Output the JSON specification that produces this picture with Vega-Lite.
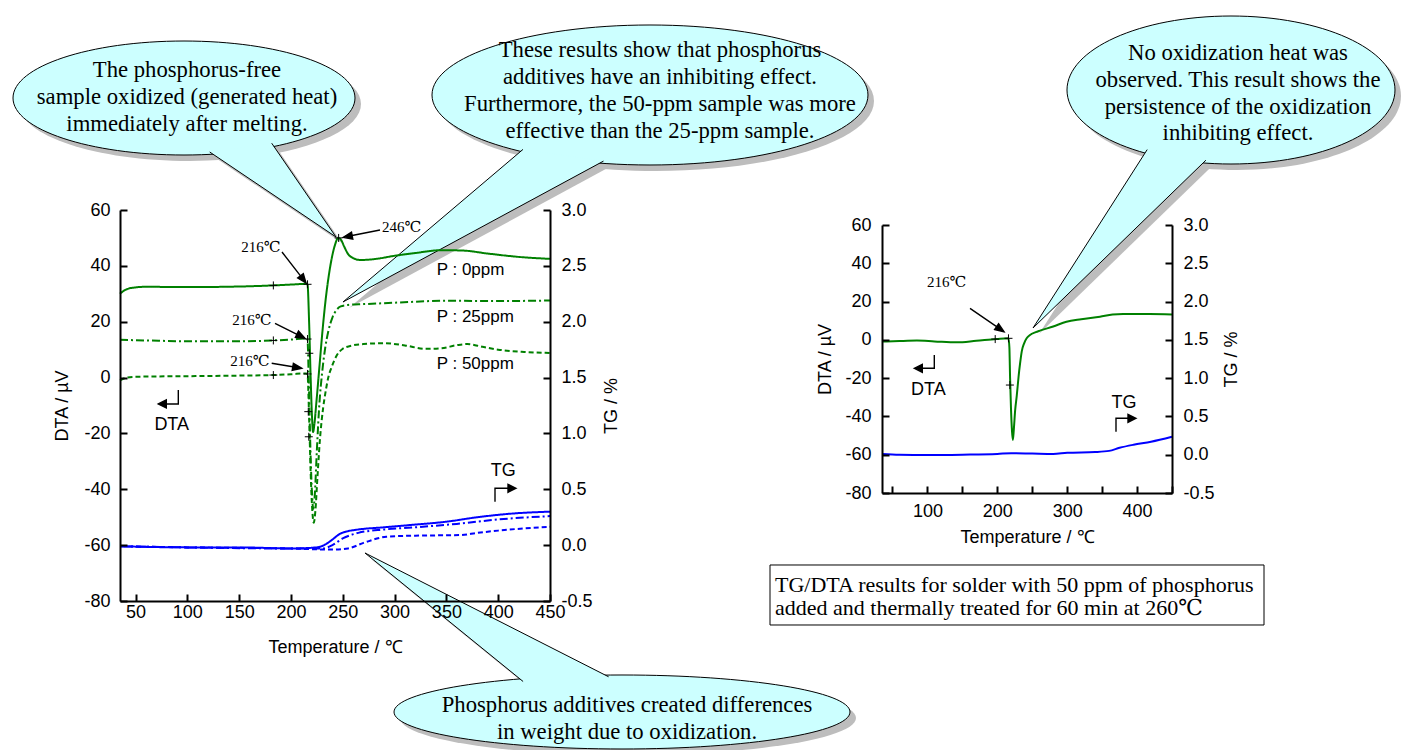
{
"$schema":"https://vega.github.io/schema/vega-lite/v6.json",
"width":1404,"height":750,"autosize":"none","padding":0,"background":"white",
"config":{"view":{"stroke":null},"axis":{"grid":false,"domainColor":"black","domainWidth":2,"tickColor":"black","tickWidth":2,"tickSize":-7,"labelFont":"Liberation Sans","labelFontSize":18,"labelColor":"black","titleFont":"Liberation Sans","titleFontSize":18,"titleFontWeight":"normal","titleColor":"black","labelFlush":false,"labelOverlap":false}},
"datasets":{
"l_dta":[
{"s":"P0","T":35,"DTA":30.0},{"s":"P0","T":38,"DTA":30.9},{"s":"P0","T":42,"DTA":31.7},{"s":"P0","T":48,"DTA":32.2},{"s":"P0","T":60,"DTA":32.5},{"s":"P0","T":100,"DTA":32.4},{"s":"P0","T":150,"DTA":32.6},{"s":"P0","T":183,"DTA":33.0},{"s":"P0","T":200,"DTA":33.3},{"s":"P0","T":210,"DTA":33.5},{"s":"P0","T":215,"DTA":33.6},{"s":"P0","T":216,"DTA":33.2},{"s":"P0","T":217.5,"DTA":20},{"s":"P0","T":219,"DTA":0},{"s":"P0","T":220.3,"DTA":-14},{"s":"P0","T":221.3,"DTA":-19.5},{"s":"P0","T":222.5,"DTA":-17},{"s":"P0","T":224.5,"DTA":-9},{"s":"P0","T":227.5,"DTA":4},{"s":"P0","T":230.5,"DTA":17},{"s":"P0","T":233.5,"DTA":28},{"s":"P0","T":236.5,"DTA":36.5},{"s":"P0","T":239.5,"DTA":43},{"s":"P0","T":242.5,"DTA":47.5},{"s":"P0","T":245.5,"DTA":50},{"s":"P0","T":248.5,"DTA":49.2},{"s":"P0","T":251.5,"DTA":46.8},{"s":"P0","T":255,"DTA":44.3},{"s":"P0","T":260,"DTA":42.8},{"s":"P0","T":267,"DTA":42.1},{"s":"P0","T":280,"DTA":42.4},{"s":"P0","T":300,"DTA":43.6},{"s":"P0","T":320,"DTA":44.6},{"s":"P0","T":345,"DTA":45.6},{"s":"P0","T":365,"DTA":45.5},{"s":"P0","T":390,"DTA":44.4},{"s":"P0","T":420,"DTA":43.2},{"s":"P0","T":450,"DTA":42.5},
{"s":"P25","T":35,"DTA":13.5},{"s":"P25","T":60,"DTA":13.3},{"s":"P25","T":100,"DTA":13.0},{"s":"P25","T":150,"DTA":13.0},{"s":"P25","T":183,"DTA":13.3},{"s":"P25","T":200,"DTA":13.6},{"s":"P25","T":215,"DTA":14.0},{"s":"P25","T":216,"DTA":13.4},{"s":"P25","T":217,"DTA":2},{"s":"P25","T":218.5,"DTA":-22},{"s":"P25","T":220,"DTA":-39},{"s":"P25","T":221.5,"DTA":-47},{"s":"P25","T":223,"DTA":-42},{"s":"P25","T":225,"DTA":-26},{"s":"P25","T":227.5,"DTA":-9},{"s":"P25","T":230,"DTA":1.5},{"s":"P25","T":233,"DTA":10.5},{"s":"P25","T":236,"DTA":16.5},{"s":"P25","T":240,"DTA":21.5},{"s":"P25","T":244,"DTA":24.2},{"s":"P25","T":248,"DTA":25.5},{"s":"P25","T":255,"DTA":26.0},{"s":"P25","T":270,"DTA":26.3},{"s":"P25","T":300,"DTA":26.8},{"s":"P25","T":350,"DTA":27.5},{"s":"P25","T":400,"DTA":27.4},{"s":"P25","T":450,"DTA":27.6},
{"s":"P50","T":35,"DTA":-1.0},{"s":"P50","T":40,"DTA":-0.2},{"s":"P50","T":50,"DTA":0.3},{"s":"P50","T":100,"DTA":0.5},{"s":"P50","T":150,"DTA":0.7},{"s":"P50","T":183,"DTA":0.9},{"s":"P50","T":200,"DTA":1.2},{"s":"P50","T":215,"DTA":1.5},{"s":"P50","T":216,"DTA":1.0},{"s":"P50","T":217.5,"DTA":-14},{"s":"P50","T":219,"DTA":-34},{"s":"P50","T":220.5,"DTA":-47},{"s":"P50","T":222,"DTA":-52},{"s":"P50","T":223.5,"DTA":-48},{"s":"P50","T":225.5,"DTA":-36},{"s":"P50","T":228,"DTA":-22},{"s":"P50","T":231,"DTA":-11},{"s":"P50","T":233,"DTA":-6},{"s":"P50","T":236,"DTA":0},{"s":"P50","T":239.5,"DTA":4},{"s":"P50","T":244,"DTA":7.8},{"s":"P50","T":250,"DTA":10.3},{"s":"P50","T":258,"DTA":11.4},{"s":"P50","T":270,"DTA":12.0},{"s":"P50","T":290,"DTA":12.3},{"s":"P50","T":310,"DTA":11.5},{"s":"P50","T":330,"DTA":10.3},{"s":"P50","T":345,"DTA":10.5},{"s":"P50","T":360,"DTA":11.6},{"s":"P50","T":370,"DTA":12.0},{"s":"P50","T":385,"DTA":11.0},{"s":"P50","T":400,"DTA":10.0},{"s":"P50","T":425,"DTA":9.2},{"s":"P50","T":450,"DTA":8.8}
],
"l_tg":[
{"s":"P0","T":35,"TG":-0.01},{"s":"P0","T":100,"TG":-0.02},{"s":"P0","T":150,"TG":-0.02},{"s":"P0","T":200,"TG":-0.03},{"s":"P0","T":225,"TG":-0.02},{"s":"P0","T":232,"TG":0.0},{"s":"P0","T":240,"TG":0.05},{"s":"P0","T":247,"TG":0.10},{"s":"P0","T":255,"TG":0.125},{"s":"P0","T":265,"TG":0.14},{"s":"P0","T":290,"TG":0.16},{"s":"P0","T":315,"TG":0.18},{"s":"P0","T":350,"TG":0.21},{"s":"P0","T":380,"TG":0.25},{"s":"P0","T":410,"TG":0.28},{"s":"P0","T":450,"TG":0.30},
{"s":"P25","T":35,"TG":-0.01},{"s":"P25","T":100,"TG":-0.02},{"s":"P25","T":200,"TG":-0.03},{"s":"P25","T":230,"TG":-0.03},{"s":"P25","T":240,"TG":0.0},{"s":"P25","T":250,"TG":0.06},{"s":"P25","T":265,"TG":0.11},{"s":"P25","T":290,"TG":0.14},{"s":"P25","T":320,"TG":0.16},{"s":"P25","T":360,"TG":0.19},{"s":"P25","T":400,"TG":0.23},{"s":"P25","T":450,"TG":0.26},
{"s":"P50","T":35,"TG":-0.01},{"s":"P50","T":100,"TG":-0.02},{"s":"P50","T":200,"TG":-0.03},{"s":"P50","T":240,"TG":-0.04},{"s":"P50","T":255,"TG":-0.03},{"s":"P50","T":270,"TG":0.02},{"s":"P50","T":292,"TG":0.075},{"s":"P50","T":320,"TG":0.085},{"s":"P50","T":363,"TG":0.09},{"s":"P50","T":380,"TG":0.11},{"s":"P50","T":400,"TG":0.13},{"s":"P50","T":425,"TG":0.15},{"s":"P50","T":450,"TG":0.165}
],
"r_dta":[
{"T":35,"DTA":-0.9},{"T":60,"DTA":-0.6},{"T":85,"DTA":-0.4},{"T":110,"DTA":-0.8},{"T":142,"DTA":-1.3},{"T":170,"DTA":-0.5},{"T":199,"DTA":0.4},{"T":216,"DTA":0.8},{"T":217.3,"DTA":-4},{"T":218.3,"DTA":-20},{"T":219.6,"DTA":-36},{"T":221,"DTA":-47.5},{"T":222.2,"DTA":-52.3},{"T":223.6,"DTA":-47},{"T":225.5,"DTA":-37},{"T":227.9,"DTA":-29},{"T":230.5,"DTA":-19},{"T":232.6,"DTA":-12.3},{"T":235,"DTA":-6},{"T":238.4,"DTA":-1.8},{"T":242,"DTA":0.8},{"T":246.8,"DTA":2.5},{"T":255,"DTA":4},{"T":261,"DTA":4.8},{"T":280,"DTA":7.0},{"T":299,"DTA":9.5},{"T":320,"DTA":10.8},{"T":347,"DTA":12.1},{"T":365,"DTA":13.2},{"T":380,"DTA":13.5},{"T":418,"DTA":13.5},{"T":450,"DTA":13.3}
],
"r_tg":[
{"T":35,"TG":0.01},{"T":60,"TG":0.0},{"T":100,"TG":-0.005},{"T":150,"TG":0.0},{"T":200,"TG":0.01},{"T":220,"TG":0.02},{"T":250,"TG":0.015},{"T":280,"TG":0.01},{"T":300,"TG":0.025},{"T":340,"TG":0.035},{"T":360,"TG":0.05},{"T":375,"TG":0.09},{"T":395,"TG":0.13},{"T":420,"TG":0.17},{"T":450,"TG":0.235}
],
"l_sym":[
{"id":"Le","kind":"ell","T":96.77,"DTA":100.1},
{"id":"Lt","kind":"tail","T":243.47,"DTA":50.33},
{"id":"Me","kind":"ell","T":546.51,"DTA":101.18},
{"id":"Mt","kind":"tail","T":250.22,"DTA":27.06},
{"id":"Be","kind":"ell","T":519.49,"DTA":-119.74},
{"id":"Bt","kind":"tail","T":271.45,"DTA":-62.81},
{"id":"A1","kind":"arrow","T":214.51,"DTA":33.86},
{"id":"A2","kind":"arrow","T":213.55,"DTA":14.06},
{"id":"A3","kind":"arrow","T":210.36,"DTA":3.32},
{"id":"A4","kind":"arrow","T":250.51,"DTA":50.22},
{"id":"Ld","kind":"arrow","T":91.27,"DTA":-9.46},
{"id":"Lg","kind":"arrow","T":396.92,"DTA":-39.65},
{"id":"X","kind":"cross","T":183,"DTA":33.0},
{"id":"X","kind":"cross","T":216,"DTA":33.4},
{"id":"X","kind":"cross","T":183,"DTA":13.3},
{"id":"X","kind":"cross","T":216,"DTA":13.8},
{"id":"X","kind":"cross","T":183,"DTA":0.9},
{"id":"X","kind":"cross","T":216,"DTA":1.3},
{"id":"X","kind":"cross","T":217.7,"DTA":8.7},
{"id":"X","kind":"cross","T":216.7,"DTA":-12.2},
{"id":"X","kind":"cross","T":217.2,"DTA":-21.2},
{"id":"X","kind":"cross","T":246,"DTA":50}
],
"r_sym":[
{"id":"Re","kind":"ell","T":534.43,"DTA":130.52},
{"id":"Rt","kind":"tail","T":251.09,"DTA":6.19},
{"id":"A5","kind":"arrow","T":209.59,"DTA":4.26},
{"id":"Rd","kind":"arrow","T":109.84,"DTA":-14.86},
{"id":"Rg","kind":"arrow","T":369.86,"DTA":-40.98},
{"id":"X","kind":"cross","T":197,"DTA":0.4},
{"id":"X","kind":"cross","T":216,"DTA":0.8},
{"id":"X","kind":"cross","T":218,"DTA":-23.6},
{"id":"Cap","kind":"box","T":228.19,"DTA":-133.28}
],
"l_btext":[
{"lines":["The phosphorus-free","sample oxidized (generated heat)","immediately after melting."],"T":99.66,"DTA":110.13},
{"lines":["These results show that phosphorus","additives have an inhibiting effect.","Furthermore, the 50-ppm sample was more","effective than the 25-ppm sample."],"T":556.16,"DTA":117.29},
{"lines":["Phosphorus additives created differences","in weight due to oxidization."],"T":524.31,"DTA":-117.24}
],
"r_btext":[
{"lines":["No oxidization heat was","observed. This result shows the","persistence of the oxidization","inhibiting effect."],"T":544.45,"DTA":149.69}
],
"r_cap":[
{"lines":["TG/DTA results for solder with 50 ppm of phosphorus","added and thermally treated for 60 min at 260℃"],"T":-118.12,"DTA":-128.06}
],
"l_serif":[
{"txt":"216℃","T":171.08,"DTA":46.75},{"txt":"216℃","T":162.39,"DTA":20.61},{"txt":"216℃","T":160.47,"DTA":5.93},{"txt":"246℃","T":306.88,"DTA":54.02}
],
"l_p":[
{"txt":"P : 0ppm","T":340.65,"DTA":38.52},{"txt":"P : 25ppm","T":340.65,"DTA":21.8},{"txt":"P : 50ppm","T":340.65,"DTA":4.75}
],
"l_sans":[
{"txt":"DTA","T":84.9,"DTA":-16.98},{"txt":"TG","T":404.93,"DTA":-33.35}
],
"r_serif":[{"txt":"216℃","T":127.59,"DTA":30.22}],
"r_sans":[{"txt":"DTA","T":101.26,"DTA":-26.19},{"txt":"TG","T":381.31,"DTA":-32.83}]
},
"layer":[
{
"layer":[
{
"encoding":{
"x":{"field":"T","type":"quantitative","scale":{"domain":[35,450],"range":[120,550],"nice":false,"zero":false},"axis":{"orient":"bottom","offset":-149,"values":[50,100,150,200,250,300,350,400,450],"labelPadding":9,"title":"Temperature / ℃","titlePadding":17,"zindex":1}},
"y":{"field":"DTA","type":"quantitative","scale":{"domain":[-80,60],"range":[601,210],"nice":false,"zero":false},"axis":{"orient":"left","offset":-120,"values":[-80,-60,-40,-20,0,20,40,60],"labelExpr":"toString(datum.value)","labelPadding":17,"title":"DTA / µV","titlePadding":12,"zindex":1}}
},
"layer":[
{"data":{"name":"l_sym"},
"encoding":{"shape":{"field":"id","type":"nominal","legend":null,"scale":{"domain":["Le","Lt","Me","Mt","Be","Bt","A1","A2","A3","A4","Ld","Lg","X"],"range":["M-171,0C-171,-31.5,-94.4,-57,0,-57C94.4,-57,171,-31.5,171,0C171,31.5,94.4,57,0,57C-94.4,57,-171,31.5,-171,0Z","M-126.3,-85L0,0L-64.3,-93.8","M-218,0C-218,-38.7,-120.4,-70,0,-70C120.4,-70,218,-38.7,218,0C218,38.7,120.4,70,0,70C-120.4,70,-218,38.7,-218,0Z","M180,-152.6L0,0L260.5,-140.9","M-228,0C-228,-20.4,-125.9,-37,0,-37C125.9,-37,228,-20.4,228,0C228,20.4,125.9,37,0,37C-125.9,37,-228,20.4,-228,0Z","M158.1,128.5L0,0L243.6,123.8","M-24,-31L-5.5,-7.1M0,0L-8.3,-5L-2.7,-9.3Z","M-30,-15L-8,-4M0,0L-9.6,-0.9L-6.5,-7.2Z","M-30,-5L-8.9,-1.5M0,0L-9.5,2L-8.3,-4.9Z","M36.7,-7.3L8.8,-1.8M0,0L8.2,-5.2L9.5,1.7Z","M0,-14L0,0L-13,0L0,0ZM-20,0L-12,-4L-12,4Z","M0,13.4L0,0L13,0L0,0ZM21,0L13,-4L13,4Z","M-4,0L4,0M0,-4L0,4"]}}},
"layer":[
{"transform":[{"filter":"datum.kind=='ell'||datum.kind=='tail'"}],"mark":{"type":"point","size":4,"filled":true,"fill":"#bdbdbd","opacity":1,"xOffset":6,"yOffset":6}},
{"transform":[{"filter":"datum.kind=='ell'"}],"mark":{"type":"point","size":4,"filled":true,"fill":"#ccffff","stroke":"black","strokeWidth":1,"opacity":1}},
{"transform":[{"filter":"datum.kind=='tail'"}],"mark":{"type":"point","size":4,"filled":true,"fill":"#ccffff","stroke":"black","strokeWidth":1,"opacity":1}}
]},
{"data":{"name":"l_btext"},"mark":{"type":"text","font":"Liberation Serif, DejaVu Serif","fontSize":22.7,"lineHeight":27,"align":"center","baseline":"middle","color":"black"},"encoding":{"text":{"field":"lines","type":"nominal"}}},
{"data":{"name":"l_dta"},"mark":{"type":"line","color":"#008000","strokeWidth":2,"interpolate":"monotone"},"encoding":{"strokeDash":{"field":"s","type":"nominal","legend":null,"scale":{"domain":["P0","P25","P50"],"range":[[1,0],[8,3,2,3],[5,3]]}}}},
{"data":{"values":[{}]},"mark":{"type":"rule","color":"black","strokeWidth":2},"encoding":{"x":{"datum":35},"x2":{"datum":450},"y":{"datum":60}}},
{"data":{"name":"l_sym"},
"encoding":{"shape":{"field":"id","type":"nominal","legend":null,"scale":{"domain":["Le","Lt","Me","Mt","Be","Bt","A1","A2","A3","A4","Ld","Lg","X"],"range":["M-171,0C-171,-31.5,-94.4,-57,0,-57C94.4,-57,171,-31.5,171,0C171,31.5,94.4,57,0,57C-94.4,57,-171,31.5,-171,0Z","M-126.3,-85L0,0L-64.3,-93.8","M-218,0C-218,-38.7,-120.4,-70,0,-70C120.4,-70,218,-38.7,218,0C218,38.7,120.4,70,0,70C-120.4,70,-218,38.7,-218,0Z","M180,-152.6L0,0L260.5,-140.9","M-228,0C-228,-20.4,-125.9,-37,0,-37C125.9,-37,228,-20.4,228,0C228,20.4,125.9,37,0,37C-125.9,37,-228,20.4,-228,0Z","M158.1,128.5L0,0L243.6,123.8","M-24,-31L-5.5,-7.1M0,0L-8.3,-5L-2.7,-9.3Z","M-30,-15L-8,-4M0,0L-9.6,-0.9L-6.5,-7.2Z","M-30,-5L-8.9,-1.5M0,0L-9.5,2L-8.3,-4.9Z","M36.7,-7.3L8.8,-1.8M0,0L8.2,-5.2L9.5,1.7Z","M0,-14L0,0L-13,0L0,0ZM-20,0L-12,-4L-12,4Z","M0,13.4L0,0L13,0L0,0ZM21,0L13,-4L13,4Z","M-4,0L4,0M0,-4L0,4"]}}},
"layer":[
{"transform":[{"filter":"datum.kind=='arrow'"}],"mark":{"type":"point","size":4,"filled":true,"fill":"black","stroke":"black","strokeWidth":1.4,"opacity":1}},
{"transform":[{"filter":"datum.kind=='cross'"}],"mark":{"type":"point","size":4,"filled":false,"stroke":"black","strokeWidth":1,"opacity":1}}
]},
{"data":{"name":"l_serif"},"mark":{"type":"text","font":"Liberation Serif, DejaVu Serif","fontSize":15,"align":"center","baseline":"middle","color":"black"},"encoding":{"text":{"field":"txt","type":"nominal"}}},
{"data":{"name":"l_p"},"mark":{"type":"text","font":"Liberation Sans","fontSize":17,"align":"left","baseline":"middle","color":"black"},"encoding":{"text":{"field":"txt","type":"nominal"}}},
{"data":{"name":"l_sans"},"mark":{"type":"text","font":"Liberation Sans","fontSize":18,"align":"center","baseline":"middle","color":"black"},"encoding":{"text":{"field":"txt","type":"nominal"}}}
]
},
{"data":{"name":"l_tg"},"mark":{"type":"line","color":"#0000ff","strokeWidth":2,"interpolate":"monotone"},
"encoding":{
"x":{"field":"T","type":"quantitative","title":"Temperature / ℃"},
"y":{"field":"TG","type":"quantitative","scale":{"domain":[-0.5,3],"range":[601,210],"nice":false,"zero":false},"axis":{"orient":"right","offset":-854,"values":[-0.5,0,0.5,1,1.5,2,2.5,3],"labelExpr":"replace(format(datum.value,'.1f'),'−','-')","labelPadding":18,"title":"TG / %","titleAngle":-90,"titleBaseline":"top","titlePadding":10,"zindex":1}},
"strokeDash":{"field":"s","type":"nominal","legend":null,"scale":{"domain":["P0","P25","P50"],"range":[[1,0],[8,3,2,3],[5,3]]}}
}}
],
"resolve":{"scale":{"y":"independent"},"axis":{"y":"independent"}}
},
{
"layer":[
{
"encoding":{
"x":{"field":"T","type":"quantitative","scale":{"domain":[35,450],"range":[882,1172],"nice":false,"zero":false},"axis":{"orient":"bottom","offset":-257,"values":[50,100,150,200,250,300,350,400,450],"labelExpr":"datum.value % 100 == 0 ? datum.label : ''","labelPadding":16,"title":"Temperature / ℃","titlePadding":8,"zindex":1}},
"y":{"field":"DTA","type":"quantitative","scale":{"domain":[-80,60],"range":[493,225],"nice":false,"zero":false},"axis":{"orient":"left","offset":-882,"values":[-80,-60,-40,-20,0,20,40,60],"labelExpr":"toString(datum.value)","labelPadding":18,"title":"DTA / µV","titlePadding":10,"zindex":1}}
},
"layer":[
{"data":{"name":"r_sym"},
"encoding":{"shape":{"field":"id","type":"nominal","legend":null,"scale":{"domain":["Re","Rt","A5","Rd","Rg","X","Cap"],"range":["M-164,0C-164,-40.9,-90.6,-74,0,-74C90.6,-74,164,-40.9,164,0C164,40.9,90.6,74,0,74C-90.6,74,-164,40.9,-164,0Z","M114.2,-178.4L0,0L172.9,-167.8","M-34,-23.4L-7.4,-5.1M0,0L-9.4,-2.2L-5.4,-8Z","M0,-13.3L0,0L-13,0L0,0ZM-20,0L-12,-4L-12,4Z","M0,13.4L0,0L13,0L0,0ZM20,0L12,-4L12,4Z","M-4,0L4,0M0,-4L0,4","M-247,-30L247,-30L247,30L-247,30Z"]}}},
"layer":[
{"transform":[{"filter":"datum.kind=='ell'||datum.kind=='tail'"}],"mark":{"type":"point","size":4,"filled":true,"fill":"#bdbdbd","opacity":1,"xOffset":6,"yOffset":6}},
{"transform":[{"filter":"datum.kind=='ell'"}],"mark":{"type":"point","size":4,"filled":true,"fill":"#ccffff","stroke":"black","strokeWidth":1,"opacity":1}},
{"transform":[{"filter":"datum.kind=='tail'"}],"mark":{"type":"point","size":4,"filled":true,"fill":"#ccffff","stroke":"black","strokeWidth":1,"opacity":1}},
{"transform":[{"filter":"datum.kind=='box'"}],"mark":{"type":"point","size":4,"filled":true,"fill":"white","stroke":"black","strokeWidth":1,"opacity":1}}
]},
{"data":{"name":"r_btext"},"mark":{"type":"text","font":"Liberation Serif, DejaVu Serif","fontSize":22.7,"lineHeight":26.7,"align":"center","baseline":"middle","color":"black"},"encoding":{"text":{"field":"lines","type":"nominal"}}},
{"data":{"name":"r_cap"},"mark":{"type":"text","font":"Liberation Serif, DejaVu Serif","fontSize":22,"lineHeight":23.3,"align":"left","baseline":"middle","color":"black"},"encoding":{"text":{"field":"lines","type":"nominal"}}},
{"data":{"name":"r_dta"},"mark":{"type":"line","color":"#008000","strokeWidth":2,"interpolate":"monotone"}},
{"data":{"values":[{}]},"mark":{"type":"rule","color":"black","strokeWidth":2},"encoding":{"x":{"datum":35},"x2":{"datum":450},"y":{"datum":60}}},
{"data":{"name":"r_sym"},
"encoding":{"shape":{"field":"id","type":"nominal","legend":null,"scale":{"domain":["Re","Rt","A5","Rd","Rg","X","Cap"],"range":["M-164,0C-164,-40.9,-90.6,-74,0,-74C90.6,-74,164,-40.9,164,0C164,40.9,90.6,74,0,74C-90.6,74,-164,40.9,-164,0Z","M114.2,-178.4L0,0L172.9,-167.8","M-34,-23.4L-7.4,-5.1M0,0L-9.4,-2.2L-5.4,-8Z","M0,-13.3L0,0L-13,0L0,0ZM-20,0L-12,-4L-12,4Z","M0,13.4L0,0L13,0L0,0ZM20,0L12,-4L12,4Z","M-4,0L4,0M0,-4L0,4","M-247,-30L247,-30L247,30L-247,30Z"]}}},
"layer":[
{"transform":[{"filter":"datum.kind=='arrow'"}],"mark":{"type":"point","size":4,"filled":true,"fill":"black","stroke":"black","strokeWidth":1.4,"opacity":1}},
{"transform":[{"filter":"datum.kind=='cross'"}],"mark":{"type":"point","size":4,"filled":false,"stroke":"black","strokeWidth":1,"opacity":1}}
]},
{"data":{"name":"r_serif"},"mark":{"type":"text","font":"Liberation Serif, DejaVu Serif","fontSize":15,"align":"center","baseline":"middle","color":"black"},"encoding":{"text":{"field":"txt","type":"nominal"}}},
{"data":{"name":"r_sans"},"mark":{"type":"text","font":"Liberation Sans","fontSize":18,"align":"center","baseline":"middle","color":"black"},"encoding":{"text":{"field":"txt","type":"nominal"}}}
]
},
{"data":{"name":"r_tg"},"mark":{"type":"line","color":"#0000ff","strokeWidth":2,"interpolate":"monotone"},
"encoding":{
"x":{"field":"T","type":"quantitative","title":"Temperature / ℃"},
"y":{"field":"TG","type":"quantitative","scale":{"domain":[-0.5,3],"range":[493,225],"nice":false,"zero":false},"axis":{"orient":"right","offset":-232,"values":[-0.5,0,0.5,1,1.5,2,2.5,3],"labelExpr":"replace(format(datum.value,'.1f'),'−','-')","labelPadding":18,"title":"TG / %","titleAngle":-90,"titleBaseline":"top","titlePadding":8,"zindex":1}}
}}
],
"resolve":{"scale":{"y":"independent"},"axis":{"y":"independent"}}
}
],
"resolve":{"scale":{"x":"independent","y":"independent","shape":"independent","strokeDash":"independent"},"axis":{"x":"independent","y":"independent"}}
}
